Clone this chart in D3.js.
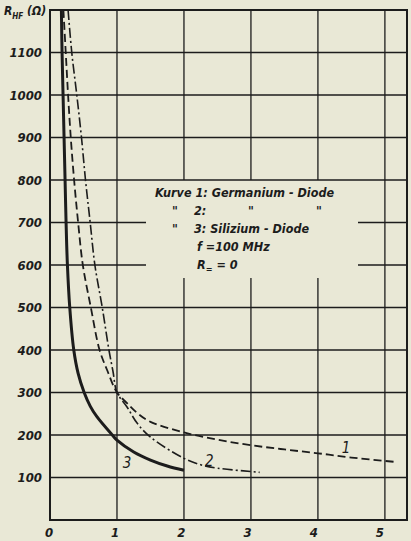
<!DOCTYPE html>
<html>
<head>
<meta charset="utf-8">
<script src="https://cdn.jsdelivr.net/npm/d3@7"></script>
<style>
  html, body { margin: 0; padding: 0; background: #e9e8d6; }
  svg { display: block; }
  text { font-family: "DejaVu Sans Condensed", "DejaVu Sans", sans-serif; font-style: oblique; font-weight: bold; fill: #1c1c1c; }
</style>
</head>
<body>
<svg id="chart" width="411" height="541"></svg>
<script>
// ---- data ----
const xTicks = [0, 1, 2, 3, 4, 5];
const yTicks = [100, 200, 300, 400, 500, 600, 700, 800, 900, 1000, 1100];

// Curve 1: Germanium-Diode (dashed)
const curve1X = [0.20, 0.235, 0.27, 0.31, 0.36, 0.42, 0.49, 0.61, 0.74, 0.86, 1.0, 1.15, 1.3, 1.5, 2.0, 2.5, 3.0, 3.5, 4.0, 4.5, 5.13];
const curve1Y = [1200, 1100, 1000, 900, 800, 700, 600, 500, 400, 350, 300, 275, 252, 231, 206, 189, 176, 166, 157, 147, 137];

// Curve 2: Germanium-Diode (dash-dot)
const curve2X = [0.27, 0.325, 0.40, 0.47, 0.53, 0.60, 0.67, 0.78, 0.88, 0.94, 1.0, 1.15, 1.3, 1.5, 2.0, 2.25, 2.5, 3.0, 3.13];
const curve2Y = [1200, 1100, 1000, 900, 800, 700, 600, 500, 400, 350, 300, 266, 228, 195, 145, 130, 122, 114, 112];

// Curve 3: Silizium-Diode (solid)
const curve3X = [0.17, 0.18, 0.195, 0.21, 0.225, 0.24, 0.26, 0.295, 0.355, 0.42, 0.51, 0.60, 0.70, 0.93, 1.0, 1.25, 1.5, 1.75, 2.0];
const curve3Y = [1200, 1100, 1000, 900, 800, 700, 600, 500, 400, 345, 300, 268, 243, 200, 188, 160, 141, 127, 117];

const curveLabels = ["1", "2", "3"];
const curveLabelPos = [[4.42, 170], [2.38, 140], [1.15, 133]];

const legendLines = ["Kurve 1: Germanium - Diode", "3: Silizium - Diode", "f =100 MHz"];

// ---- layout ----
const svg = d3.select("#chart");
const x = d3.scaleLinear().domain([0, 5.33]).range([50, 407]);
const y = d3.scaleLinear().domain([0, 1200]).range([520, 10]);
const ink = "#1c1c1c";

// grid: horizontal lines
const gridH = svg.append("g");
yTicks.forEach(v => {
  if (v === 600 || v === 700) {
    gridH.append("line").attr("x1", x(0)).attr("x2", 146).attr("y1", y(v)).attr("y2", y(v));
    gridH.append("line").attr("x1", 358).attr("x2", x(5.33)).attr("y1", y(v)).attr("y2", y(v));
  } else {
    gridH.append("line").attr("x1", x(0)).attr("x2", x(5.33)).attr("y1", y(v)).attr("y2", y(v));
  }
});
gridH.selectAll("line").attr("stroke", ink).attr("stroke-width", 1.3);

// grid: vertical lines
const gridV = svg.append("g");
xTicks.slice(1).forEach(v => {
  if (v >= 2 && v <= 4) {
    gridV.append("line").attr("x1", x(v)).attr("x2", x(v)).attr("y1", y(1200)).attr("y2", y(800));
    gridV.append("line").attr("x1", x(v)).attr("x2", x(v)).attr("y1", 278).attr("y2", y(0));
  } else {
    gridV.append("line").attr("x1", x(v)).attr("x2", x(v)).attr("y1", y(1200)).attr("y2", y(0));
  }
});
gridV.selectAll("line").attr("stroke", ink).attr("stroke-width", 1.3);

// frame
svg.append("rect")
  .attr("x", x(0)).attr("y", y(1200))
  .attr("width", x(5.33) - x(0)).attr("height", y(0) - y(1200))
  .attr("fill", "none").attr("stroke", ink).attr("stroke-width", 2);

// clip
svg.append("clipPath").attr("id", "plotclip").append("rect")
  .attr("x", x(0)).attr("y", y(1200)).attr("width", x(5.33) - x(0)).attr("height", y(0) - y(1200));

const line = d3.line().x(d => x(d[0])).y(d => y(d[1])).curve(d3.curveCatmullRom.alpha(0.5));
const zip = (a, b) => a.map((v, i) => [v, b[i]]);

const curves = svg.append("g").attr("clip-path", "url(#plotclip)");
curves.append("path").datum(zip(curve1X, curve1Y))
  .attr("d", line).attr("fill", "none").attr("stroke", ink)
  .attr("stroke-width", 1.8).attr("stroke-dasharray", "8,4");
curves.append("path").datum(zip(curve2X, curve2Y))
  .attr("d", line).attr("fill", "none").attr("stroke", ink)
  .attr("stroke-width", 1.6).attr("stroke-dasharray", "10,3,2,3");
curves.append("path").datum(zip(curve3X, curve3Y))
  .attr("d", line).attr("fill", "none").attr("stroke", ink)
  .attr("stroke-width", 3);

// curve labels
svg.append("g").selectAll("text").data(curveLabels).join("text")
  .attr("x", (d, i) => x(curveLabelPos[i][0]))
  .attr("y", (d, i) => y(curveLabelPos[i][1]))
  .attr("text-anchor", "middle").attr("dominant-baseline", "central")
  .attr("font-size", 15).style("font-weight", "normal")
  .text(d => d);

// y tick labels
svg.append("g").selectAll("text").data(yTicks).join("text")
  .attr("x", 42).attr("y", d => y(d))
  .attr("text-anchor", "end").attr("dominant-baseline", "central")
  .attr("font-size", 13)
  .text(d => d);

// x tick labels
svg.append("g").selectAll("text").data(xTicks).join("text")
  .attr("x", d => x(d) - 1 - d * 0.8).attr("y", 537)
  .attr("text-anchor", "middle")
  .attr("font-size", 13)
  .text(d => d);

// y axis title
const yt = svg.append("text").attr("x", 4).attr("y", 15).attr("font-size", 12);
yt.append("tspan").text("R");
yt.append("tspan").attr("font-size", 8).attr("dy", 4).text("HF");
yt.append("tspan").attr("dy", -4).text(" (Ω)");

// legend
const lg = svg.append("g").attr("font-size", 12.5);
lg.append("text").attr("x", 155).attr("y", 197).text(legendLines[0]);
lg.append("text").attr("x", 172).attr("y", 215).text("\"");
lg.append("text").attr("x", 194).attr("y", 215).text("2:");
lg.append("text").attr("x", 248).attr("y", 215).text("\"");
lg.append("text").attr("x", 316).attr("y", 215).text("\"");
lg.append("text").attr("x", 172).attr("y", 233).text("\"");
lg.append("text").attr("x", 194).attr("y", 233).text(legendLines[1]);
lg.append("text").attr("x", 197).attr("y", 251).text(legendLines[2]);
const rl = lg.append("text").attr("x", 197).attr("y", 269);
rl.append("tspan").text("R");
rl.append("tspan").attr("font-size", 9).attr("dy", 3).text("=");
rl.append("tspan").attr("dy", -3).text(" = 0");
</script>
</body>
</html>
